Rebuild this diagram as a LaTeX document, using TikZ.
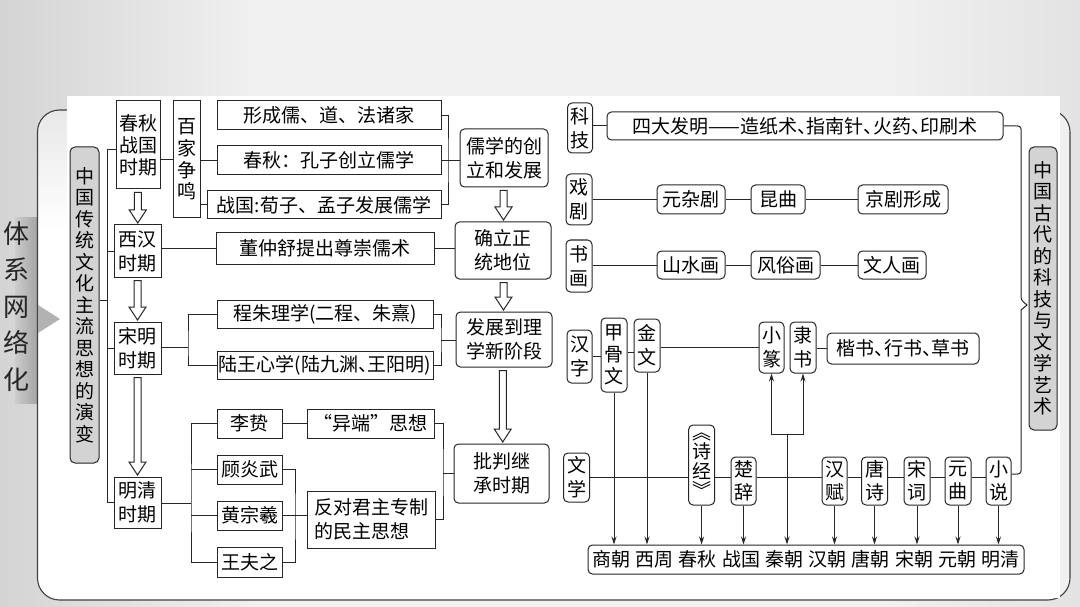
\documentclass[tikz,border=0pt]{standalone}
\usepackage{fontspec}
\newfontfamily\cjk{Noto Sans CJK SC}
\usetikzlibrary{calc,arrows.meta}
\definecolor{lc}{HTML}{262626}
\definecolor{gfill}{HTML}{D3D3D3}
\definecolor{bgc}{HTML}{F1F1F1}
\newcommand\hd{\makebox[0.5em][l]{、}}
\newcommand\gp{\hspace{5.3pt}}
\newcommand\harrow[2]{%
 \draw[harr] let \p1=(#1.south), \p2=(#2.north) in
 ({(\x1+\x2)/2-3.5pt},{\y1-3pt}) -- ({(\x1+\x2)/2-3.5pt},{\y2+14.5pt})
 -- ({(\x1+\x2)/2-8.5pt},{\y2+14.5pt}) -- ({(\x1+\x2)/2},{\y2+1.5pt})
 -- ({(\x1+\x2)/2+8.5pt},{\y2+14.5pt}) -- ({(\x1+\x2)/2+3.5pt},{\y2+14.5pt})
 -- ({(\x1+\x2)/2+3.5pt},{\y1-3pt}) -- cycle;}
\begin{document}
\begin{tikzpicture}[x=1pt,y=-1pt,
 bx/.style={draw=lc, line width=1pt, inner sep=0pt, align=center, text=black,
   font=\cjk\fontsize{19}{24}\selectfont},
 rb/.style={bx, rounded corners=4.5pt},
 gb/.style={bx, rounded corners=5pt, fill=gfill},
 sz/.style 2 args={minimum width=#1pt, minimum height=#2pt},
 pitch/.style={font=\cjk\fontsize{19}{#1}\selectfont},
 ln/.style={draw=lc, line width=1pt},
 arr/.style={ln, -{Stealth[length=8pt,width=5pt]}},
 harr/.style={draw=lc, line width=1pt, fill=white, line join=miter}]
\useasboundingbox (0,0) rectangle (1080,607);
% ---------- background ----------
\fill[bgc] (0,0) rectangle (1080,607);
\shade[left color=black!17, right color=bgc] (0,0) rectangle (260,607);
\shade[left color=bgc, right color=black!11] (880,0) rectangle (1080,607);
\shade[left color=black!20, right color=black!36] (15,218) rectangle (37.5,403);
\fill[white, rounded corners=22pt] (37.5,110) rectangle (1070,600);
\begin{scope}
 \clip[rounded corners=22pt] (37.5,110) rectangle (1070,600);
 \shade[top color=black!9, bottom color=white] (37.5,110) rectangle (67,230);
 \fill[black!6] (1060,110) rectangle (1070,600);
\end{scope}
\draw[draw=black!75, line width=1.1pt, rounded corners=22pt] (37.5,110) rectangle (1070,600);
\fill[white] (67,96) rectangle (1060,598.4);
\fill[black!30] (38,305) -- (60,319) -- (38,333) -- cycle;
\node[font=\cjk\fontsize{26}{36.5}\selectfont, align=center, text=black!85, inner sep=0pt]
  (title) at (17,306.5) {体\\系\\网\\络\\化};
% ---------- left: main thought ----------
\node[gb, sz={29}{316}, pitch=21.5] (gL) at (84.5,305)
  {中\\国\\传\\统\\文\\化\\主\\流\\思\\想\\的\\演\\变};
\node[bx, sz={44}{88}, pitch=22] (cq) at (138,145) {春秋\\战国\\时期};
\node[bx, sz={27}{117}, pitch=21.7] (bj) at (186.5,159.5) {百\\家\\争\\鸣};
\node[bx, sz={47}{52}] (xh) at (137.5,251) {西汉\\时期};
\node[bx, sz={47}{52}] (sm) at (137.5,348) {宋明\\时期};
\node[bx, sz={47}{51}] (mq) at (137.5,502.5) {明清\\时期};

\node[bx, sz={224}{29}] (xc) at (329,115.5) {形成儒、道、法诸家};
\node[bx, sz={224}{29}] (cz) at (329,160.5) {春秋：孔子创立儒学};
\node[bx, sz={234}{28}] (zg) at (324,205) {战国:荀子、孟子发展儒学};
\node[rb, sz={88}{58}] (rx) at (504,158) {儒学的创\\立和发展};
\node[bx, sz={218}{31}] (dz) at (325,248.5) {董仲舒提出尊崇儒术};
\node[rb, sz={96}{57}] (ql) at (503,250.5) {确立正\\统地位};
\node[bx, sz={216}{28}] (cy) at (325,314) {程朱理学(二程、朱熹)};
\node[bx, sz={216}{28}] (lw) at (325,365) {陆王心学(陆九渊\hd 王阳明)};
\node[rb, sz={96}{55}] (fz) at (504,339.5) {发展到理\\学新阶段};
\node[rb, sz={95}{59}] (pp) at (501.5,473.5) {批判继\\承时期};
\node[bx, sz={65}{29}] (lz) at (249.5,423.5) {李贽};
\node[bx, sz={65}{29}] (gy) at (249.5,469.5) {顾炎武};
\node[bx, sz={65}{29}] (hz) at (249.5,515.5) {黄宗羲};
\node[bx, sz={65}{30}] (wf) at (249.5,562) {王夫之};
\node[bx, sz={127}{29}] (yd) at (370.5,423.5) {“异端”思想};
\node[bx, sz={128}{57}, align=left] (fd) at (371,519.5) {反对君主专制\\的民主思想};

% left connectors
\coordinate (jL) at (107,300);
\draw[ln] (gL.east |- jL) -- (jL);
\draw[ln] ([yshift=-5pt]cq.west) -| (jL |- mq.west) -- (mq.west);
\draw[ln] (xh.west) -- (xh.west -| jL);
\draw[ln] (sm.west) -- (sm.west -| jL);
\draw[ln] (cq.east |- bj.west) -- (bj.west);
\draw[ln] (bj.east |- cz.west) -- (cz.west);
\draw[ln] (bj.east |- zg.west) -- (zg.west);
\coordinate (jR1) at (448,161);
\draw[ln] (xc.east) -| (jR1) |- (zg.east);
\draw[ln] (cz.east) -- (cz.east -| jR1);
\draw[ln] (jR1) -- (rx.west |- jR1);
\draw[ln] (xh.east |- dz.west) -- (dz.west);
\draw[ln] (dz.east) -- (ql.west |- dz.east);
\coordinate (jS) at (188,347);
\draw[ln] (sm.east |- jS) -- (jS);
\draw[ln] (cy.west) -| (jS) |- (lw.west);
\coordinate (jS2) at (441,340);
\draw[ln] (cy.east) -| (jS2) |- (lw.east);
\draw[ln] (jS2) -- (fz.west |- jS2);
\coordinate (jM) at (191,503);
\draw[ln] (mq.east |- jM) -- (jM);
\draw[ln] (lz.west) -| (jM) |- (wf.west);
\draw[ln] (gy.west) -- (gy.west -| jM);
\draw[ln] (hz.west) -- (hz.west -| jM);
\draw[ln] (lz.east) -- (yd.west);
\coordinate (jG) at (295,517);
\draw[ln] (gy.east) -| (jG) |- (wf.east);
\draw[ln] (hz.east) -- (fd.west |- hz.east);
\coordinate (jP) at (443,473.5);
\draw[ln] (yd.east) -| (jP) |- (fd.east);
\draw[ln] (jP) -- (pp.west |- jP);
% hollow arrows
\harrow{cq}{xh}
\harrow{xh}{sm}
\harrow{sm}{mq}
\harrow{rx}{ql}
\harrow{ql}{fz}
\harrow{fz}{pp}

% ---------- right: science and arts ----------
\node[gb, sz={28}{283}, pitch=21.5] (gR) at (1043,288.5)
  {中\\国\\古\\代\\的\\科\\技\\与\\文\\学\\艺\\术};
\node[rb, sz={25}{50}] (kj) at (580,128) {科\\技};
\node[rb, sz={396}{28}] (sd) at (805,126) {四大发明——造纸术\hd 指南针\hd 火药\hd 印刷术};
\node[rb, sz={26}{51}] (xj) at (579,199.5) {戏\\剧};
\node[rb, sz={68}{29}] (yz) at (691,199.5) {元杂剧};
\node[rb, sz={54}{29}] (kq) at (778,199.5) {昆曲};
\node[rb, sz={90}{29}] (jj) at (903,199.5) {京剧形成};
\node[rb, sz={26}{52}] (sh) at (579,266) {书\\画};
\node[rb, sz={68}{28}] (ss) at (691,265) {山水画};
\node[rb, sz={69}{28}] (fs) at (785.5,265) {风俗画};
\node[rb, sz={68}{28}] (wr) at (892,265) {文人画};
\node[rb, sz={25}{53}] (hzi) at (579.5,356.5) {汉\\字};
\node[rb, sz={26}{74}, pitch=22] (jg) at (614,355) {甲\\骨\\文};
\node[rb, sz={26}{53}] (jw) at (647,345.5) {金\\文};
\node[rb, sz={25}{51}] (xz) at (771.5,347.5) {小\\篆};
\node[rb, sz={26}{51}] (ls) at (803,347.5) {隶\\书};
\node[rb, sz={152}{31}] (ks) at (903,348.5) {楷书\hd 行书\hd 草书};
\node[rb, sz={26}{49}] (wx) at (576.5,477.5) {文\\学};
\node[rb, sz={26}{80}, pitch=19.5] (sj) at (701.6,465) {︽\\诗\\经\\︾};
\node[rb, sz={25}{48}, pitch=23] (cc) at (743.5,481) {楚\\辞};
\node[rb, sz={25}{48}, pitch=23] (hf) at (834.5,481) {汉\\赋};
\node[rb, sz={26}{48}, pitch=23] (ts) at (874.5,481) {唐\\诗};
\node[rb, sz={26}{48}, pitch=23] (sc) at (917,481) {宋\\词};
\node[rb, sz={26}{48}, pitch=23] (yq) at (958,481) {元\\曲};
\node[rb, sz={25}{48}, pitch=23] (xs) at (998.5,481) {小\\说};
\node[rb, sz={436}{29}] (bot) at (806,559.5)
  {商朝\gp 西周\gp 春秋\gp 战国\gp 秦朝\gp 汉朝\gp 唐朝\gp 宋朝\gp 元朝\gp 明清};

% right connectors
\draw[ln] (kj.east |- sd.west) -- (sd.west);
\draw[ln] (xj.east |- yz.west) -- (yz.west);
\draw[ln] (yz.east) -- (kq.west);
\draw[ln] (kq.east) -- (jj.west);
\draw[ln] (sh.east |- ss.west) -- (ss.west);
\draw[ln] (ss.east) -- (fs.west);
\draw[ln] (fs.east) -- (wr.west);
\draw[ln] (hzi.east) -- (hzi.east -| jg.west);
\path ([yshift=-7pt]jw.west) coordinate (jwa);
\draw[ln] (jwa) -- (jwa -| jg.east);
\draw[ln] (xz.west) -- (xz.west -| jw.east);
\draw[ln] (ls.east |- ks.west) -- (ks.west);
\draw[ln] (wx.east) -- (wx.east -| sj.west);
\draw[ln] (sj.east |- wx.east) -- (wx.east -| cc.west);
\draw[ln] (cc.east |- wx.east) -- (wx.east -| hf.west);
\draw[ln] (hf.east |- wx.east) -- (wx.east -| ts.west);
\draw[ln] (ts.east |- wx.east) -- (wx.east -| sc.west);
\draw[ln] (sc.east |- wx.east) -- (wx.east -| yq.west);
\draw[ln] (yq.east |- wx.east) -- (wx.east -| xs.west);
\foreach \n in {jg,jw,sj,cc,hf,ts,sc,yq,xs}
  \draw[arr] (\n.south) -- (\n.south |- bot.north);
\coordinate (qn) at (787,434);
\draw[arr] (qn) -- (qn |- bot.north);
\draw[arr] (qn) -| (xz.south);
\draw[arr] (qn) -| (ls.south);
\coordinate (jKa) at (1021,300);
\coordinate (jKt) at (1027,305);
\coordinate (jKb) at (1021,310);
\path ([yshift=7pt]xs.east) coordinate (xsb);
\draw[ln, rounded corners=3pt] (sd.east) -| (jKa) [sharp corners] -- (jKt) -- (jKb)
  [rounded corners=3pt] |- (xsb);
\end{tikzpicture}
\end{document}
